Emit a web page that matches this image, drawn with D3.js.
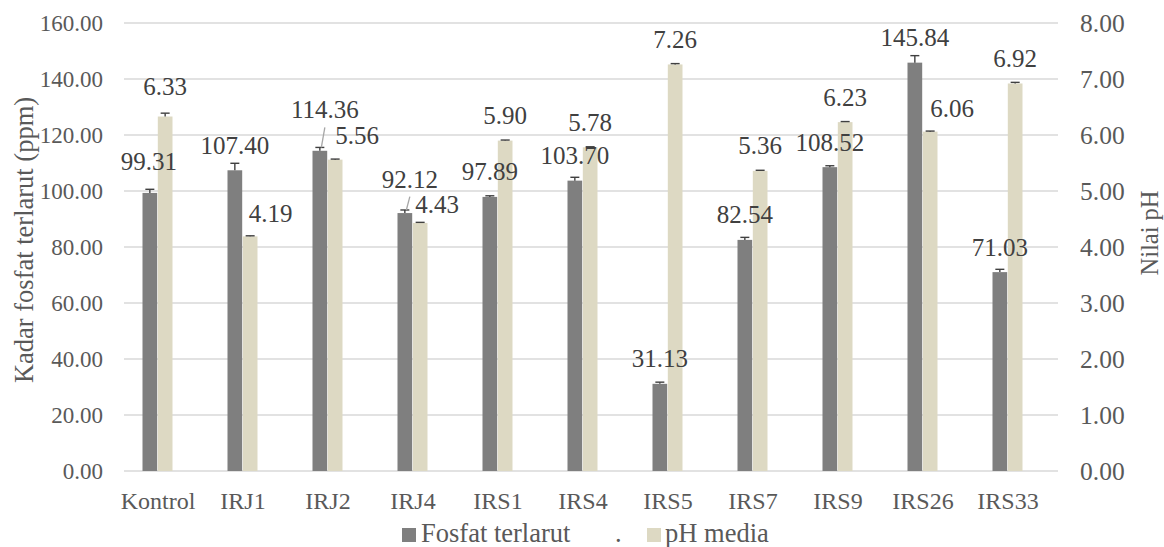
<!DOCTYPE html>
<html>
<head>
<meta charset="utf-8">
<script src="https://cdn.jsdelivr.net/npm/d3@7"></script>
<style>
  body { margin: 0; background: #fff; }
  svg text { font-family: "Liberation Serif", "Times New Roman", Times, "DejaVu Serif", serif; }
</style>
</head>
<body>
<div id="graph"></div>
<script>
(function() {

  const categories = ["Kontrol", "IRJ1", "IRJ2", "IRJ4", "IRS1", "IRS4", "IRS5", "IRS7", "IRS9", "IRS26", "IRS33"]
  const fosfat = [99.31, 107.40, 114.36, 92.12, 97.89, 103.70, 31.13, 82.54, 108.52, 145.84, 71.03]
  const fosfatErr = [1.3, 2.5, 1.2, 1.1, 0.4, 1.2, 0.6, 0.9, 0.5, 2.5, 1.0]
  const ph = [6.33, 4.19, 5.56, 4.43, 5.90, 5.78, 7.26, 5.36, 6.23, 6.06, 6.92]
  const phErr = [0.06, 0.01, 0.01, 0.01, 0.01, 0.01, 0.015, 0.01, 0.01, 0.01, 0.02]
  const leftTicks = [0, 20, 40, 60, 80, 100, 120, 140, 160]
  const rightTicks = [0, 1, 2, 3, 4, 5, 6, 7, 8]
  const seriesNames = ["Fosfat terlarut", "pH media"]

  const W = 1164, H = 547
  const plot = {left: 124, right: 1058, top: 23, bottom: 471}
  const colors = {fosfat: "#7f7f7f", ph: "#ddd9c3"}

  const svg = d3.select("#graph").append("svg")
    .attr("width", W).attr("height", H)

  const x = d3.scaleBand().domain(categories).range([115.5, 1050.5])
  const xs = d3.scaleBand().domain(["fosfat", "ph"]).range([-15.5, 14.5]).paddingInner(0.04)
  const yL = d3.scaleLinear().domain([0, 160]).range([plot.bottom, plot.top])
  const yR = d3.scaleLinear().domain([0, 8]).range([plot.bottom, plot.top])
  const cx = (c) => x(c) + x.bandwidth() / 2

  // gridlines
  svg.append("g").selectAll("line").data(leftTicks).join("line")
    .attr("x1", plot.left).attr("x2", plot.right)
    .attr("y1", d => yL(d)).attr("y2", d => yL(d))
    .attr("stroke", "#d9d9d9").attr("stroke-width", 1.5)

  // left axis
  const axL = svg.append("g")
    .attr("transform", "translate(" + (plot.left - 21) + ",0)")
    .call(d3.axisLeft(yL).tickValues(leftTicks).tickFormat(d3.format(".2f")).tickSize(0).tickPadding(0))
  axL.select(".domain").remove()
  axL.attr("font-family", null)
  axL.selectAll("text").attr("font-size", 23).attr("fill", "#595959")

  // right axis
  const axR = svg.append("g")
    .attr("transform", "translate(" + 1080 + ",0)")
    .call(d3.axisRight(yR).tickValues(rightTicks).tickFormat(d3.format(".2f")).tickSize(0).tickPadding(0))
  axR.select(".domain").remove()
  axR.attr("font-family", null)
  axR.selectAll("text").attr("font-size", 25.5).attr("fill", "#595959")

  // category axis
  const axB = svg.append("g")
    .attr("transform", "translate(0," + plot.bottom + ")")
    .call(d3.axisBottom(x).tickSize(0).tickPadding(0))
  axB.select(".domain").remove()
  axB.attr("font-family", null)
  axB.selectAll("text").attr("font-size", 24).attr("fill", "#595959")
    .attr("dy", null).attr("y", 38)

  // axis titles
  svg.append("text")
    .attr("transform", "translate(33,240) rotate(-90)")
    .attr("text-anchor", "middle").attr("font-size", 26.5).attr("fill", "#595959")
    .text("Kadar fosfat terlarut (ppm)")
  svg.append("text")
    .attr("transform", "translate(1158,233) rotate(-90)")
    .attr("text-anchor", "middle").attr("font-size", 24.5).attr("fill", "#595959")
    .text("Nilai pH")

  const rows = categories.map((c, i) => ({c, i, f: fosfat[i], fe: fosfatErr[i], p: ph[i], pe: phErr[i]}))

  // bars
  svg.append("g").selectAll("rect").data(rows).join("rect")
    .attr("x", d => cx(d.c) + xs("fosfat")).attr("width", xs.bandwidth())
    .attr("y", d => yL(d.f)).attr("height", d => yL(0) - yL(d.f))
    .attr("fill", colors.fosfat)
  svg.append("g").selectAll("rect").data(rows).join("rect")
    .attr("x", d => cx(d.c) + xs("ph")).attr("width", xs.bandwidth())
    .attr("y", d => yR(d.p)).attr("height", d => yR(0) - yR(d.p))
    .attr("fill", colors.ph)

  // error bars (plus side)
  function errBars(key, val, err, scale) {
    const g = svg.append("g").attr("stroke", "#404040").attr("stroke-width", 1.4)
    rows.forEach(d => {
      const bx = cx(d.c) + xs(key) + xs.bandwidth() / 2
      const y0 = scale(d[val]), y1 = scale(d[val] + d[err])
      g.append("line").attr("x1", bx).attr("x2", bx).attr("y1", y0).attr("y2", y1)
      g.append("line").attr("x1", bx - 4.5).attr("x2", bx + 4.5).attr("y1", y1).attr("y2", y1)
    })
  }
  errBars("fosfat", "f", "fe", yL)
  errBars("ph", "p", "pe", yR)

  // data labels, a few were moved by hand in the original
  const nudgeF = {Kontrol: [-1, -6.5], IRJ2: [5, -16], IRJ4: [5, -9]}
  const nudgeP = {Kontrol: [0, -5], IRJ1: [20.5, 2], IRJ2: [22, 1], IRJ4: [17, 7], IRS26: [22, 2]}
  const fmt = d3.format(".2f")
  const lbl = svg.append("g").attr("font-size", 25).attr("fill", "#404040").attr("text-anchor", "middle")
  rows.forEach(d => {
    const nf = nudgeF[d.c] || [0, 0]
    const bxF = cx(d.c) + xs("fosfat") + xs.bandwidth() / 2
    const lx = bxF + nf[0], ly = yL(d.f) - 16.5 + nf[1]
    lbl.append("text").attr("x", lx).attr("y", ly).text(fmt(d.f))
    if (nudgeF[d.c] && d.c !== "Kontrol") {
      svg.append("line")
        .attr("x1", lx).attr("y1", ly + 9)
        .attr("x2", bxF + 1.5).attr("y2", yL(d.f + d.fe))
        .attr("stroke", "#a6a6a6").attr("stroke-width", 1.3)
    }
    const np = nudgeP[d.c] || [0, 0]
    const bxP = cx(d.c) + xs("ph") + xs.bandwidth() / 2
    lbl.append("text").attr("x", bxP + np[0]).attr("y", yR(d.p) - 16.5 + np[1]).text(fmt(d.p))
  })

  // legend
  const leg = svg.append("g").attr("font-size", 26.5).attr("fill", "#595959")
  leg.append("rect").attr("x", 402).attr("y", 528).attr("width", 14).attr("height", 14).attr("fill", colors.fosfat)
  leg.append("text").attr("x", 421).attr("y", 542).text(seriesNames[0])
  leg.append("text").attr("x", 615).attr("y", 542).text(".")
  leg.append("rect").attr("x", 647).attr("y", 528).attr("width", 14).attr("height", 14).attr("fill", colors.ph)
  leg.append("text").attr("x", 665).attr("y", 542).text(seriesNames[1])

})();
</script>
</body>
</html>
